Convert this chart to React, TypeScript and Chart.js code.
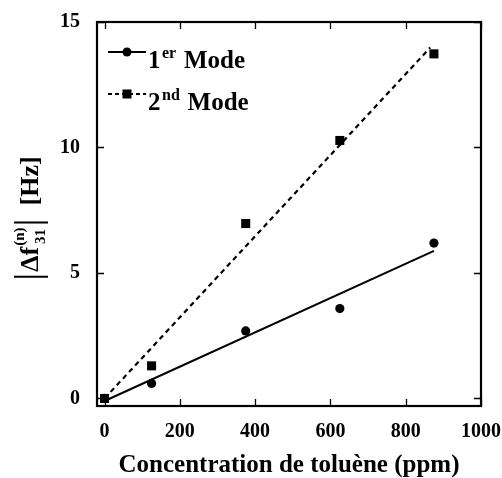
import React, { useEffect, useRef } from 'react';
import { Chart, registerables } from 'chart.js';

Chart.register(...registerables);

const CONC = [0, 125, 375, 625, 875];
const MODE1 = [0, 0.6, 2.69, 3.58, 6.19];
const MODE2 = [0, 1.3, 6.97, 10.28, 13.73];
const FIT1_X = [0, 875];
const FIT1_Y = [-0.1, 5.88];
const FIT2_X = [0, 865];
const FIT2_Y = [0, 13.98];
const X_TICKS = [0, 200, 400, 600, 800, 1000];
const Y_TICKS = [0, 5, 10, 15];
const X_TITLE = 'Concentration de toluène (ppm)';
const LEGEND_MAIN = ['1', '2'];
const LEGEND_SUP = ['er', 'nd'];
const LEGEND_REST = [' Mode', ' Mode'];

const FAMILY = "'Liberation Serif', 'Times New Roman', serif";

const decoPlugin = {
  id: 'deco',
  beforeDatasetsDraw(chart: any) {
    const { ctx, chartArea: a, scales } = chart;
    ctx.save();
    ctx.strokeStyle = '#000';
    ctx.lineWidth = 1.3;
    const tl = 7;
    X_TICKS.forEach((v) => {
      const px = Math.round(scales.x.getPixelForValue(v)) + 0.5;
      ctx.beginPath();
      ctx.moveTo(px, a.bottom);
      ctx.lineTo(px, a.bottom - tl);
      ctx.moveTo(px, a.top);
      ctx.lineTo(px, a.top + tl);
      ctx.stroke();
    });
    Y_TICKS.forEach((v) => {
      const py = Math.round(scales.y.getPixelForValue(v)) + 0.5;
      ctx.beginPath();
      ctx.moveTo(a.left, py);
      ctx.lineTo(a.left + tl, py);
      ctx.moveTo(a.right, py);
      ctx.lineTo(a.right - tl, py);
      ctx.stroke();
    });
    ctx.lineWidth = 2.2;
    ctx.strokeRect(a.left, a.top, a.right - a.left, a.bottom - a.top);
    ctx.restore();
  },
  afterDraw(chart: any) {
    const { ctx, chartArea: a } = chart;
    ctx.save();
    ctx.fillStyle = '#000';
    ctx.strokeStyle = '#000';

    // X title
    ctx.font = `bold 25px ${FAMILY}`;
    ctx.textAlign = 'center';
    ctx.textBaseline = 'alphabetic';
    ctx.fillText(X_TITLE, (a.left + a.right) / 2, 472);

    // Legend
    ctx.textAlign = 'left';
    for (let i = 0; i < 2; i++) {
      const ly = a.top + 30 + i * 42;
      const by = a.top + 46 + i * 42;
      const x0 = a.left + 11;
      const x1 = a.left + 49;
      ctx.lineWidth = 2;
      ctx.setLineDash(i === 0 ? [] : [4, 3]);
      ctx.beginPath();
      ctx.moveTo(x0, ly);
      ctx.lineTo(x1, ly);
      ctx.stroke();
      ctx.setLineDash([]);
      const mx = (x0 + x1) / 2;
      if (i === 0) {
        ctx.beginPath();
        ctx.arc(mx, ly, 4.5, 0, Math.PI * 2);
        ctx.fill();
      } else {
        ctx.fillRect(mx - 4.5, ly - 4.5, 9, 9);
      }
      let tx = a.left + 51;
      ctx.font = `bold 25px ${FAMILY}`;
      ctx.fillText(LEGEND_MAIN[i], tx, by);
      tx += ctx.measureText(LEGEND_MAIN[i]).width + 1.5;
      ctx.font = `bold 16px ${FAMILY}`;
      ctx.fillText(LEGEND_SUP[i], tx, by - 10);
      tx += ctx.measureText(LEGEND_SUP[i]).width + 1.5;
      ctx.font = `bold 25px ${FAMILY}`;
      ctx.fillText(LEGEND_REST[i], tx, by);
    }

    // Y title (rotated)
    const big = `bold 26px ${FAMILY}`;
    const small = `bold 15px ${FAMILY}`;
    ctx.font = big;
    const wDf = ctx.measureText('Δf').width;
    const wHz = ctx.measureText('[Hz]').width;
    ctx.font = small;
    const wSup = ctx.measureText('(n)').width;
    const wSub = ctx.measureText('31').width;
    const wStack = Math.max(wSup, wSub);
    const gapBar = 4;
    const total = 2 + gapBar + wDf + 1 + wStack + gapBar + 2 + 16 + wHz;
    ctx.translate(38, (a.top + a.bottom) / 2 + 3);
    ctx.rotate(-Math.PI / 2);
    let x = -total / 2;
    ctx.lineWidth = 2;
    ctx.beginPath();
    ctx.moveTo(x + 1, -24);
    ctx.lineTo(x + 1, 10);
    ctx.stroke();
    x += 2 + gapBar;
    ctx.font = big;
    ctx.textAlign = 'left';
    ctx.fillText('Δf', x, 0);
    x += wDf + 1;
    ctx.font = small;
    ctx.textAlign = 'center';
    ctx.fillText('(n)', x + wStack / 2, -14);
    ctx.fillText('31', x + wStack / 2, 7);
    x += wStack + gapBar;
    ctx.beginPath();
    ctx.moveTo(x + 1, -24);
    ctx.lineTo(x + 1, 10);
    ctx.stroke();
    x += 2 + 16;
    ctx.font = big;
    ctx.textAlign = 'left';
    ctx.fillText('[Hz]', x, 0);
    ctx.restore();
  },
};

export default function App() {
  const ref = useRef<HTMLCanvasElement>(null);
  useEffect(() => {
    if (!ref.current) return;
    const tickFont = { family: FAMILY, size: 20, weight: 'bold' as const };
    const chart = new Chart(ref.current, {
      type: 'scatter',
      data: {
        datasets: [
          {
            label: '2nd Mode',
            data: CONC.map((c, i) => ({ x: c, y: MODE2[i] })),
            pointStyle: 'rect',
            pointRadius: 6.4,
            backgroundColor: '#000',
            borderColor: '#000',
            borderWidth: 0,
            showLine: false,
          },
          {
            label: '1er Mode',
            data: CONC.map((c, i) => ({ x: c, y: MODE1[i] })),
            pointStyle: 'circle',
            pointRadius: 4.6,
            backgroundColor: '#000',
            borderColor: '#000',
            borderWidth: 0,
            showLine: false,
          },
          {
            label: 'fit2',
            data: FIT2_X.map((c, i) => ({ x: c, y: FIT2_Y[i] })),
            showLine: true,
            pointRadius: 0,
            borderColor: '#000',
            borderWidth: 2.2,
            borderDash: [5, 4],
          },
          {
            label: 'fit1',
            data: FIT1_X.map((c, i) => ({ x: c, y: FIT1_Y[i] })),
            showLine: true,
            pointRadius: 0,
            borderColor: '#000',
            borderWidth: 2,
          },
        ],
      },
      options: {
        animation: false,
        responsive: false,
        devicePixelRatio: 1,
        layout: { padding: { top: 22, right: 21, bottom: 0, left: 0 } },
        plugins: { legend: { display: false }, tooltip: { enabled: false } },
        scales: {
          x: {
            type: 'linear',
            min: -20,
            max: 1000,
            afterBuildTicks: (s: any) => {
              s.ticks = X_TICKS.map((v) => ({ value: v }));
            },
            afterFit: (s: any) => {
              s.height = 72;
              s.paddingLeft = 0;
              s.paddingRight = 0;
            },
            grid: { display: false, drawTicks: false },
            border: { display: false },
            ticks: {
              padding: 14,
              color: '#000',
              font: tickFont,
              maxRotation: 0,
              autoSkip: false,
              callback: (v: any) => String(v),
            },
          },
          y: {
            type: 'linear',
            min: -0.3,
            max: 15,
            afterBuildTicks: (s: any) => {
              s.ticks = Y_TICKS.map((v) => ({ value: v }));
            },
            afterFit: (s: any) => {
              s.width = 97;
              s.paddingTop = 0;
              s.paddingBottom = 0;
            },
            grid: { display: false, drawTicks: false },
            border: { display: false },
            ticks: {
              padding: 17,
              color: '#000',
              font: tickFont,
              autoSkip: false,
              callback: (v: any) => String(v),
            },
          },
        },
      },
      plugins: [decoPlugin],
    });
    return () => chart.destroy();
  }, []);
  return (
    <div style={{ position: 'fixed', left: 0, top: 0, width: 502, height: 478, background: '#fff' }}>
      <canvas ref={ref} width={502} height={478} style={{ display: 'block' }} />
    </div>
  );
}
